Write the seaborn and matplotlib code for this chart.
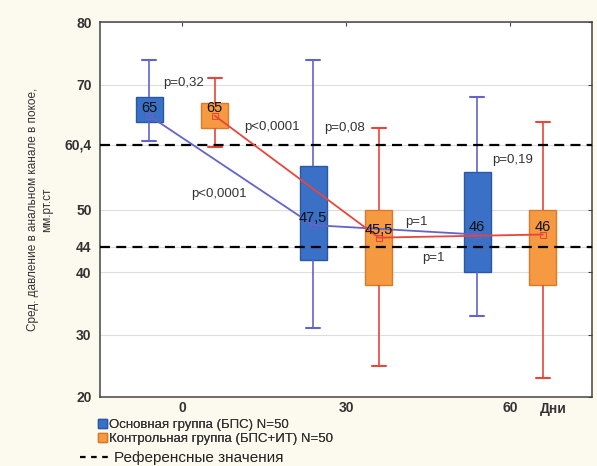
import numpy as np
import pandas as pd
import seaborn as sns
import matplotlib
matplotlib.use("Agg")
import matplotlib.pyplot as plt
import matplotlib.transforms as mtransforms
from matplotlib.patches import Patch
from matplotlib.lines import Line2D

# ---------------- data ----------------
days = [0, 30, 60]
group_names = ["Основная группа (БПС) N=50", "Контрольная группа (БПС+ИТ) N=50"]
ref_label = "Референсные значения"

main_min = [61, 31, 33]
main_q1 = [64, 42, 40]
main_med = [65, 47.5, 46]
main_q3 = [68, 57, 56]
main_max = [74, 74, 68]

ctrl_min = [60, 25, 23]
ctrl_q1 = [63, 38, 38]
ctrl_med = [65, 45.5, 46]
ctrl_q3 = [67, 50, 50]
ctrl_max = [71, 63, 64]

main_med_labels = ["65", "47,5", "46"]
ctrl_med_labels = ["65", "45,5", "46"]

ref_values = [60.4, 44]
y_ticks = [20, 30, 40, 44, 50, 60.4, 70, 80]
y_tick_labels = ["20", "30", "40", "44", "50", "60,4", "70", "80"]
x_ticks = [0, 30, 60]
x_unit = "Дни"

p_labels = ["p=0,32", "p<0,0001", "p<0,0001", "p=0,08", "p=0,19", "p=1", "p=1"]
p_x = [0.2, 16.5, 6.8, 29.8, 60.4, 42.8, 46.0]
p_y = [70.2, 63.2, 52.5, 63.0, 58.0, 48.0, 42.2]

# ---------------- style ----------------
sns.set_style("white")
plt.rcParams["font.family"] = ["Liberation Sans", "DejaVu Sans"]

BG = "#fcf9ee"
BLUE_FILL, BLUE_EDGE, BLUE_LINE = "#3a70c6", "#2a58a8", "#6464c8"
OR_FILL, OR_EDGE, OR_LINE = "#f59a40", "#d77a2c", "#e8463c"
TXT = "#333333"

offset = 6
box_w = 5

fig = plt.figure(figsize=(5.97, 4.66), dpi=100, facecolor=BG)
ax = fig.add_axes([100 / 597, 1 - 397 / 466, 492 / 597, 375 / 466])
ax.set_facecolor("white")


def box_frame(mins, q1s, meds, q3s, maxs, shift, name):
    rows = []
    for d, a, b, c, e, f in zip(days, mins, q1s, meds, q3s, maxs):
        for v in (a, b, c, e, f):
            rows.append({"pos": d + shift, "value": v, "group": name})
    return pd.DataFrame(rows)


df_main = box_frame(main_min, main_q1, main_med, main_q3, main_max, -offset, group_names[0])
df_ctrl = box_frame(ctrl_min, ctrl_q1, ctrl_med, ctrl_q3, ctrl_max, offset, group_names[1])

for df, fill, edge, wl in [(df_main, BLUE_FILL, BLUE_EDGE, BLUE_LINE),
                           (df_ctrl, OR_FILL, OR_EDGE, OR_LINE)]:
    sns.boxplot(data=df, x="pos", y="value", native_scale=True, orient="x",
                width=box_w / 30, whis=np.inf, color=fill, saturation=1,
                linecolor=edge, linewidth=1.0, showfliers=False,
                whiskerprops=dict(color=wl, linewidth=1.2),
                capprops=dict(color=wl, linewidth=1.5),
                medianprops=dict(visible=False), ax=ax, zorder=2)

# connecting lines of medians
line_df = pd.DataFrame({
    "pos": [d - offset for d in days] + [d + offset for d in days],
    "med": main_med + ctrl_med,
    "group": [group_names[0]] * 3 + [group_names[1]] * 3,
})
sns.lineplot(data=line_df, x="pos", y="med", hue="group",
             palette=[BLUE_LINE, OR_LINE], marker="s", markersize=5,
             markerfacecolor="none", linewidth=1.3, legend=False, ax=ax,
             zorder=4)
for ln in ax.lines[-2:]:
    ln.set_markeredgecolor(ln.get_color())

# median value labels
for d, m, lab in zip(days, main_med, main_med_labels):
    ax.text(d - offset, m + 1.2, lab, ha="center", va="center", fontsize=10.5,
            color="#111111", zorder=5)
for d, m, lab in zip(days, ctrl_med, ctrl_med_labels):
    ax.text(d + offset, m + 1.2, lab, ha="center", va="center", fontsize=10.5,
            color="#111111", zorder=5)

# reference lines
for rv in ref_values:
    ax.axhline(rv, color="black", linewidth=1.6, linestyle=(0, (4.5, 2.8)),
               zorder=3)

# p-values
for lab, px, py in zip(p_labels, p_x, p_y):
    ax.text(px, py, lab, ha="center", va="center", fontsize=9.5, color=TXT,
            zorder=6)

# axes
ax.set_xlim(-15, 75)
ax.set_ylim(20, 80)
ax.set_yticks(y_ticks)
ax.set_yticklabels(y_tick_labels)
ax.set_xticks(x_ticks)
ax.set_xticklabels([str(t) for t in x_ticks])
ax.set_xlabel("")
ax.set_ylabel("Сред. давление в анальном канале в покое,\nмм.рт.ст",
              fontsize=8.5, color=TXT, labelpad=8, linespacing=1.3)
ax.grid(axis="y", color="#dddddd", linewidth=0.8, zorder=0)
ax.set_axisbelow(True)
ax.tick_params(axis="both", direction="in", length=3, color="#444444",
               labelsize=10, labelcolor=TXT, top=True, right=True)
ax.tick_params(axis="x", pad=3)
ax.tick_params(axis="y", pad=6)
for sp in ax.spines.values():
    sp.set_color("#444444")
    sp.set_linewidth(1.1)
for t in ax.get_yticklabels():
    t.set_fontweight("bold")
for t in ax.get_xticklabels():
    t.set_fontweight("bold")

trans = mtransforms.blended_transform_factory(ax.transData, ax.transAxes)
ax.text(68, -0.013, x_unit, transform=trans, ha="center", va="top",
        fontsize=10, color=TXT, fontweight="bold")

# legend
h1 = [Patch(facecolor=BLUE_FILL, edgecolor=BLUE_EDGE),
      Patch(facecolor=OR_FILL, edgecolor=OR_EDGE)]
leg1 = fig.legend(h1, group_names, loc="upper left",
                  bbox_to_anchor=(98 / 597, 1 - 419 / 466), frameon=False,
                  fontsize=9.5, handlelength=0.7, handleheight=0.7,
                  handletextpad=0.15, labelspacing=0.15, borderpad=0,
                  borderaxespad=0)
for t in leg1.get_texts():
    t.set_color(TXT)
h2 = [Line2D([0], [0], color="black", linewidth=1.6, linestyle=(0, (2.5, 2.5)))]
leg2 = fig.legend(h2, [ref_label], loc="upper left",
                  bbox_to_anchor=(80 / 597, 1 - 451 / 466), frameon=False,
                  fontsize=11, handlelength=1.9, handletextpad=0.3,
                  borderpad=0, borderaxespad=0)
for t in leg2.get_texts():
    t.set_color("#222222")
fig.add_artist(leg1)

fig.savefig("out.png", dpi=100, facecolor=BG)
